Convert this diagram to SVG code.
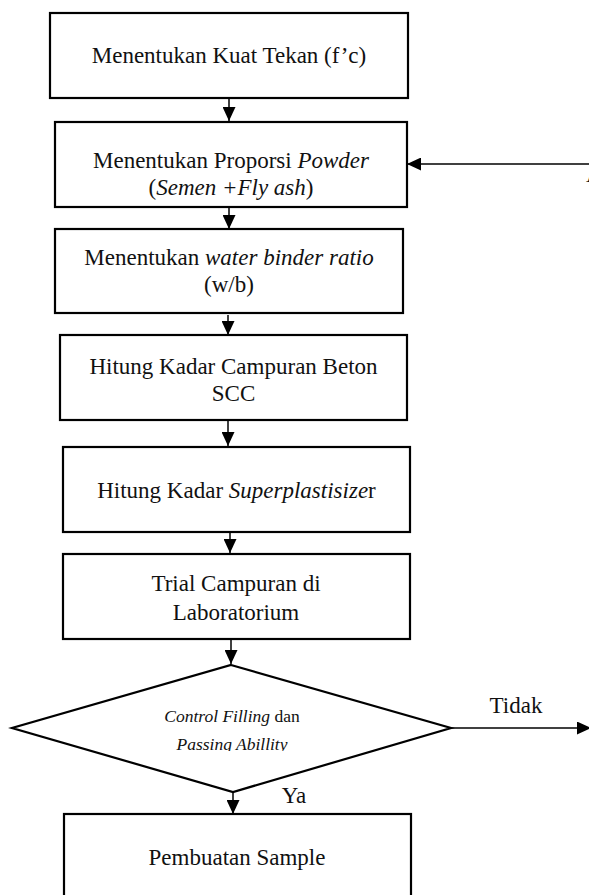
<svg xmlns="http://www.w3.org/2000/svg" width="589" height="895" viewBox="0 0 589 895">
<style>
.box{fill:#fff;stroke:#000;stroke-width:2.2}
.t{font-family:"Liberation Serif","Times New Roman",serif;font-size:23px;fill:#111;text-anchor:middle}
.s{font-family:"Liberation Serif","Times New Roman",serif;font-size:17.5px;fill:#111;text-anchor:middle}
.i{font-style:italic}
.c{fill:none;stroke:#000;stroke-width:1.5}
</style>
<defs>
<marker id="ah" markerUnits="userSpaceOnUse" markerWidth="14" markerHeight="13" refX="14" refY="6.5" orient="auto">
<path d="M0,0 L14,6.5 L0,13 z" fill="#000"/>
</marker>
<clipPath id="dclip"><rect x="0" y="700" width="589" height="51"/></clipPath>
</defs>
<rect width="589" height="895" fill="#fff"/>
<g id="connectors">
<line class="c" x1="229" y1="98" x2="229" y2="121" marker-end="url(#ah)"/>
<line class="c" x1="589" y1="164" x2="407" y2="164" marker-end="url(#ah)"/>
<line class="c" x1="229" y1="207" x2="229" y2="229" marker-end="url(#ah)"/>
<line class="c" x1="228" y1="315" x2="228" y2="335" marker-end="url(#ah)"/>
<line class="c" x1="228" y1="421" x2="228" y2="446" marker-end="url(#ah)"/>
<line class="c" x1="230" y1="532" x2="230" y2="553" marker-end="url(#ah)"/>
<line class="c" x1="231" y1="639" x2="231" y2="664" marker-end="url(#ah)"/>
<line class="c" x1="451" y1="728" x2="591" y2="728" marker-end="url(#ah)"/>
<line class="c" x1="233" y1="792" x2="233" y2="814" marker-end="url(#ah)"/>
<text class="t" x="516" y="713">Tidak</text>
<text class="t" x="294" y="803">Ya</text>
<text class="t" x="586" y="182" text-anchor="start" style="text-anchor:start">A</text>
</g>
<g id="n1">
<rect class="box" x="50" y="13" width="358" height="85"/>
<text class="t" x="229" y="63">Menentukan Kuat Tekan (f’c)</text>
</g>
<g id="n2">
<rect class="box" x="55" y="122" width="352" height="85"/>
<text class="t" x="231" y="168">Menentukan Proporsi <tspan class="i">Powder</tspan></text>
<text class="t" x="231" y="195">(<tspan class="i">Semen +Fly ash</tspan>)</text>
</g>
<g id="n3">
<rect class="box" x="55" y="229" width="348" height="84"/>
<text class="t" x="229" y="265">Menentukan <tspan class="i">water binder ratio</tspan></text>
<text class="t" x="229" y="292">(w/b)</text>
</g>
<g id="n4">
<rect class="box" x="60" y="335" width="347" height="85"/>
<text class="t" x="233.5" y="374">Hitung Kadar Campuran Beton</text>
<text class="t" x="233.5" y="401">SCC</text>
</g>
<g id="n5">
<rect class="box" x="63" y="447" width="347" height="85"/>
<text class="t" x="236.5" y="498">Hitung Kadar <tspan class="i">Superplastisize</tspan>r</text>
</g>
<g id="n6">
<rect class="box" x="63" y="554" width="347" height="85"/>
<text class="t" x="236" y="591">Trial Campuran di</text>
<text class="t" x="236" y="620">Laboratorium</text>
</g>
<g id="n7">
<polygon class="box" points="231,665 451,728 233,792 12,728"/>
<g clip-path="url(#dclip)">
<text class="s" x="232" y="722"><tspan class="i">Control Filling</tspan> dan</text>
<text class="s i" x="232" y="750">Passing Abillity</text>
</g>
</g>
<g id="n8">
<rect class="box" x="64" y="814" width="347" height="100"/>
<text class="t" x="237" y="865">Pembuatan Sample</text>
</g>
</svg>
